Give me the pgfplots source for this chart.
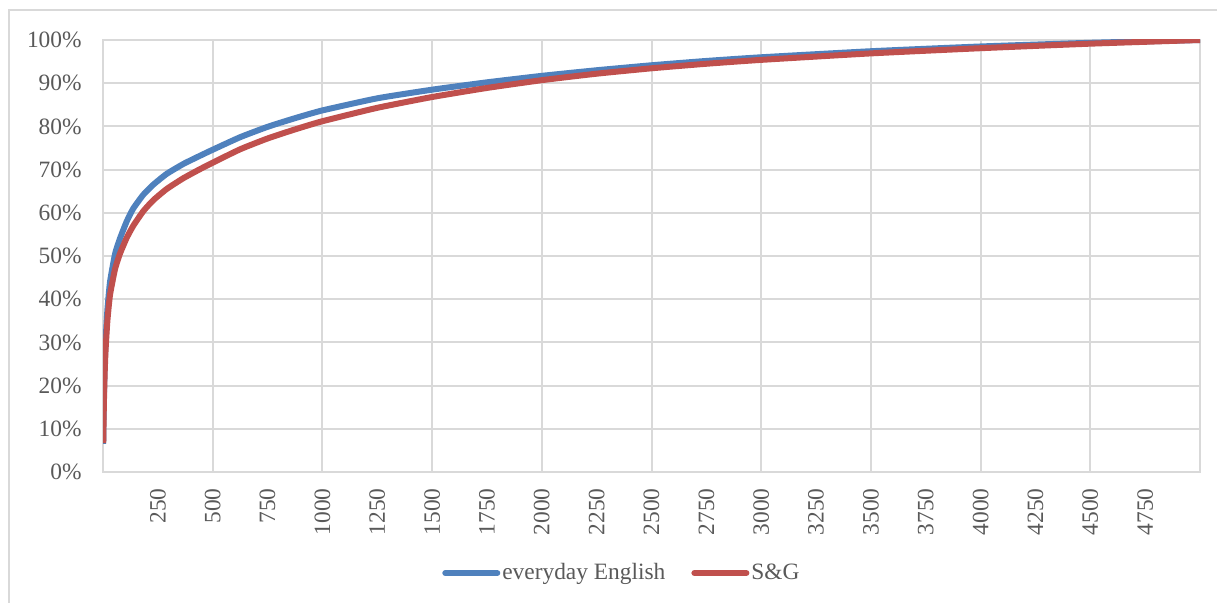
\documentclass[border=0pt]{standalone}
\usepackage{pgfplots}
\pgfplotsset{compat=1.18}
\usepackage{fontspec}
\setmainfont{Liberation Serif}

\definecolor{txtgray}{HTML}{595959}
\definecolor{gridgray}{HTML}{D9D9D9}
\definecolor{xlblue}{HTML}{4F81BD}
\definecolor{xlred}{HTML}{C0504D}

% cumulative coverage (%) against word rank
\pgfplotstableread{
rank cov
1 6.5
2 11
3 14.5
5 19.5
8 25.5
12 30.5
20 37.5
32 44
55 50.5
77 54
108 58
138 61
184 64.2
229 66.5
290 69
366 71.3
442 73.2
500 74.6
625 77.5
750 79.9
875 81.9
1000 83.7
1250 86.5
1500 88.5
1750 90.2
2000 91.7
2250 93.0
2500 94.15
2750 95.15
3000 96.0
3500 97.4
4000 98.5
4500 99.35
5000 100
}\everyday
\pgfplotstableread{
rank cov
1 6.7
2 9.5
3 13
5 18
8 23.5
12 28.5
20 35
32 41
55 47
77 50.5
108 54.2
138 57
184 60.4
229 62.9
290 65.5
366 68
442 70.1
500 71.6
625 74.7
750 77.2
875 79.3
1000 81.2
1250 84.3
1500 86.8
1750 88.9
2000 90.7
2250 92.2
2500 93.45
2750 94.5
3000 95.4
3500 96.9
4000 98.1
4500 99.15
5000 100
}\sandg

\begin{document}
\begin{tikzpicture}
\begin{axis}[
    at={(51.5pt,-236pt)}, anchor=south west,
    scale only axis, width=548.5pt, height=216pt,
    xmin=0, xmax=5000, ymin=0, ymax=100,
    xtick={250,500,...,4750},
    minor xtick={500,1000,...,4500},
    xminorgrids=true, ymajorgrids=true,
    ytick={0,10,...,100},
    yticklabel={\pgfmathprintnumber{\tick}\%},
    /pgf/number format/assume math mode=true,
    /pgf/number format/1000 sep={},
    grid style={draw=gridgray, line width=1pt},
    minor grid style={draw=gridgray, line width=1pt},
    axis line style={draw=gridgray, line width=1pt},
    tick style={draw=none},
    major tick length=0pt, minor tick length=0pt,
    tick label style={font=\fontsize{11.7}{14}\selectfont, text=txtgray},
    yticklabel style={anchor=east, inner sep=0pt, xshift=-10.5pt},
    xticklabel style={yshift=-8pt, rotate=90, anchor=east, inner sep=0pt},
    legend style={at={(0.473,-0.234)}, anchor=center, draw=none, fill=none,
        font=\fontsize{11.7}{14}\selectfont, text=txtgray,
        legend columns=2, /tikz/every even column/.append style={column sep=12pt},
        nodes={inner sep=1pt}},
    legend image code/.code={\draw[#1, line cap=round] (0pt,0pt) -- (26pt,0pt);},
    every axis plot/.append style={line width=3pt, line join=round},
]
\addplot[xlblue, no markers, smooth, tension=0.3] table[x=rank, y=cov] {\everyday};
\addlegendentry{everyday English}
\addplot[xlred, no markers, smooth, tension=0.3] table[x=rank, y=cov] {\sandg};
\addlegendentry{S\&G}
\end{axis}
\draw[gridgray, line width=1pt] (4.5pt,-310pt) -- (4.5pt,-5pt) -- (620pt,-5pt);
\pgfresetboundingbox
\path[use as bounding box] (0pt,0pt) rectangle (608.5pt,-301.5pt);
\end{tikzpicture}
\end{document}
